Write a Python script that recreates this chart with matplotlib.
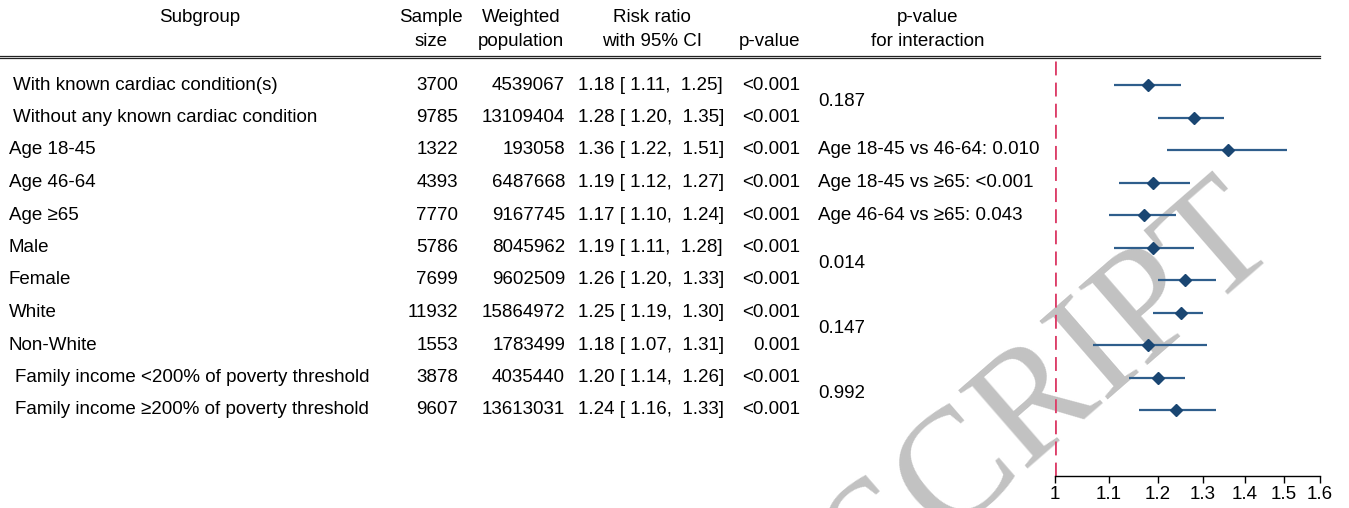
import matplotlib
matplotlib.use("Agg")
import matplotlib.pyplot as plt
from matplotlib import transforms
from matplotlib.lines import Line2D
from matplotlib.ticker import FixedLocator, NullLocator

# ---------------- data ----------------
subgroups = [
    "With known cardiac condition(s)",
    "Without any known cardiac condition",
    "Age 18-45",
    "Age 46-64",
    "Age \u226565",
    "Male",
    "Female",
    "White",
    "Non-White",
    "Family income <200% of poverty threshold",
    "Family income \u2265200% of poverty threshold",
]
sample_size = [3700, 9785, 1322, 4393, 7770, 5786, 7699, 11932, 1553, 3878, 9607]
weighted_pop = [4539067, 13109404, 193058, 6487668, 9167745, 8045962, 9602509,
                15864972, 1783499, 4035440, 13613031]
rr = [1.18, 1.28, 1.36, 1.19, 1.17, 1.19, 1.26, 1.25, 1.18, 1.20, 1.24]
ci_low = [1.11, 1.20, 1.22, 1.12, 1.10, 1.11, 1.20, 1.19, 1.07, 1.14, 1.16]
ci_high = [1.25, 1.35, 1.51, 1.27, 1.24, 1.28, 1.33, 1.30, 1.31, 1.26, 1.33]
p_values = ["<0.001", "<0.001", "<0.001", "<0.001", "<0.001", "<0.001",
            "<0.001", "<0.001", "0.001", "<0.001", "<0.001"]
interaction_rows = [0.5, 2, 3, 4, 5.5, 7.5, 9.5]
interaction_text = ["0.187", "Age 18-45 vs 46-64: 0.010", "Age 18-45 vs \u226565: <0.001",
                    "Age 46-64 vs \u226565: 0.043", "0.014", "0.147", "0.992"]
x_ticks = [1, 1.1, 1.2, 1.3, 1.4, 1.5, 1.6]
x_ticklabels = ["1", "1.1", "1.2", "1.3", "1.4", "1.5", "1.6"]

# ---------------- style ----------------
W, H = 1349, 508
plt.rcParams["font.family"] = ["Liberation Sans", "DejaVu Sans"]
FS = 13.5
label_indent = [13, 13, 9, 9, 9, 9, 9, 9, 9, 15, 15]

fig = plt.figure(figsize=(W / 100, H / 100), dpi=100)
fig.patch.set_facecolor("white")

def fx(px):
    return px / W

def fy(py):
    return 1 - py / H

# axes for the forest plot: x 1..1.6 at px 1055..1320, axis line at y=476
ax_top, ax_bot = 58, 476
ax = fig.add_axes([fx(1055), fy(ax_bot), fx(1320) - fx(1055), (ax_bot - ax_top) / H])
ax.patch.set_alpha(0)
row0, dy = 85, 32.5
ax.set_ylim((ax_bot - row0) / dy, (ax_top - row0) / dy)
ax.set_xscale("log")
ax.set_xlim(1, 1.6)
ax.xaxis.set_major_locator(FixedLocator(x_ticks))
ax.xaxis.set_minor_locator(NullLocator())
ax.set_xticklabels(x_ticklabels, fontsize=FS)
ax.tick_params(axis="x", length=5, width=1, pad=2, colors="black")
ax.set_yticks([])
for s in ["left", "right", "top"]:
    ax.spines[s].set_visible(False)
ax.spines["bottom"].set_linewidth(1)

ys = list(range(len(subgroups)))
ax.axvline(1, color="#dc3f69", lw=2.0, ls=(0, (5, 2.6)), zorder=2)
ax.hlines(ys, ci_low, ci_high, color="#2f5e8c", lw=1.6, zorder=3)
ax.plot(rr, ys, ls="none", marker="D", ms=6.5, color="#1a4672", zorder=4)

# table texts: x in figure px, y in data rows
tr = transforms.blended_transform_factory(fig.transFigure, ax.transData)
for i in ys:
    ax.text(fx(label_indent[i]), i, subgroups[i], transform=tr, ha="left", va="center",
            fontsize=FS, clip_on=False)
    ax.text(fx(458), i, f"{sample_size[i]}", transform=tr, ha="right", va="center",
            fontsize=FS, clip_on=False)
    ax.text(fx(565), i, f"{weighted_pop[i]}", transform=tr, ha="right", va="center",
            fontsize=FS, clip_on=False)
    ax.text(fx(578), i, f"{rr[i]:.2f} [ {ci_low[i]:.2f},  {ci_high[i]:.2f}]", transform=tr,
            ha="left", va="center", fontsize=FS, clip_on=False)
    ax.text(fx(800), i, p_values[i], transform=tr, ha="right", va="center",
            fontsize=FS, clip_on=False)
for r, t in zip(interaction_rows, interaction_text):
    ax.text(fx(818), r, t, transform=tr, ha="left", va="center", fontsize=FS, clip_on=False)

# header
hdr1, hdr2 = 17, 42
fig.text(fx(200), fy(hdr1), "Subgroup", ha="center", va="center", fontsize=FS)
fig.text(fx(431), fy(hdr1), "Sample", ha="center", va="center", fontsize=FS)
fig.text(fx(431), fy(hdr2), "size", ha="center", va="center", fontsize=FS)
fig.text(fx(521), fy(hdr1), "Weighted", ha="center", va="center", fontsize=FS)
fig.text(fx(521), fy(hdr2), "population", ha="center", va="center", fontsize=FS)
fig.text(fx(652), fy(hdr1), "Risk ratio", ha="center", va="center", fontsize=FS)
fig.text(fx(652), fy(hdr2), "with 95% CI", ha="center", va="center", fontsize=FS)
fig.text(fx(770), fy(hdr2), "p-value", ha="center", va="center", fontsize=FS)
fig.text(fx(928), fy(hdr1), "p-value", ha="center", va="center", fontsize=FS)
fig.text(fx(928), fy(hdr2), "for interaction", ha="center", va="center", fontsize=FS)
for yy in (55.5, 58):
    fig.add_artist(Line2D([fx(0), fx(1320)], [fy(yy), fy(yy)], color="#222222", lw=0.9))

# watermark
fig.text(fx(1283), fy(244), "MANUSCRIPT", fontsize=114, family=["Liberation Serif", "DejaVu Serif"],
         color="#c2c2c2", rotation=41, rotation_mode="anchor", ha="right", va="baseline",
         zorder=-1)

fig.savefig("out.png", dpi=100, facecolor="white")
